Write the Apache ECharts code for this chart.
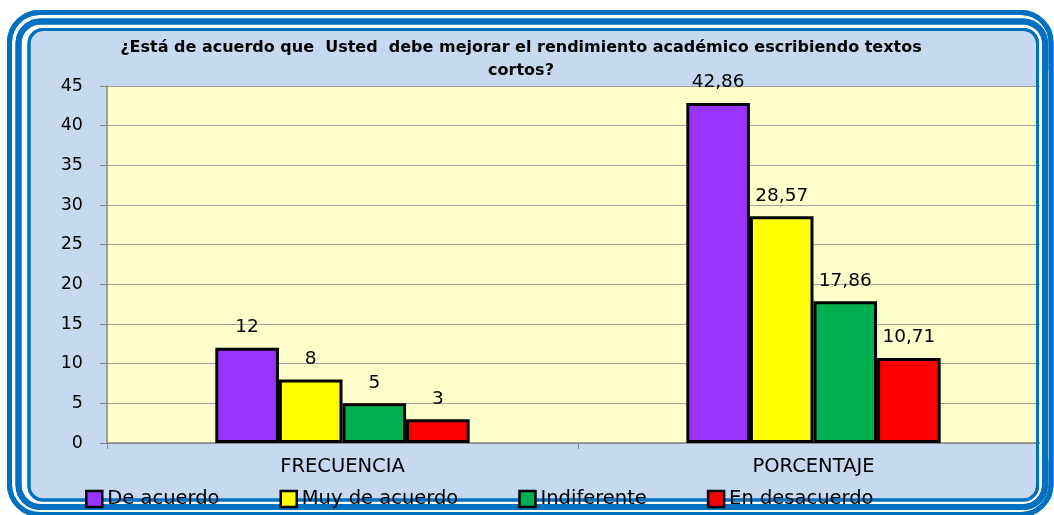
<!DOCTYPE html>
<html>
<head>
<meta charset="utf-8">
<script src="https://cdn.jsdelivr.net/npm/echarts@6/dist/echarts.min.js"></script>
<style>
  html, body { margin: 0; padding: 0; background: #fff; }
  #container { width: 1054px; height: 515px; }
</style>
</head>
<body>
<div id="container"></div>
<script>
// values
let categories = ['FRECUENCIA', 'PORCENTAJE'];
let seriesNames = ['De acuerdo', 'Muy de acuerdo', 'Indiferente', 'En desacuerdo'];
let seriesColors = ['#9933ff', '#ffff00', '#00b050', '#ff0000'];
let deAcuerdo = [12, 42.86];
let muyDeAcuerdo = [8, 28.57];
let indiferente = [5, 17.86];
let enDesacuerdo = [3, 10.71];
let seriesValues = [deAcuerdo, muyDeAcuerdo, indiferente, enDesacuerdo];

let font = 'DejaVu Sans';
let dom = document.getElementById('container');
let chart = echarts.init(dom);

// rounded blue frame, three lines like the excel one
let rings = [
    {x: 9.5, y: 12.5, width: 1041.5, height: 502, r: 30, lineWidth: 5},
    {x: 18.5, y: 21.5, width: 1026.5, height: 485.5, r: 22, lineWidth: 6},
    {x: 29, y: 29.5, width: 1008.5, height: 470.5, r: 14, lineWidth: 3}
];

function frame(onTop){
    let out = [];
    rings.forEach((rg, i) => {
        out.push({
            type: 'rect',
            z: onTop ? 40 : -10 + i,
            silent: true,
            shape: {x: rg.x, y: rg.y, width: rg.width, height: rg.height, r: rg.r},
            style: {
                fill: onTop ? null : (i == 2 ? '#c6d9f1' : '#ffffff'),
                stroke: '#0070c0',
                lineWidth: rg.lineWidth
            }
        });
    });
    return out;
}

let graphics = frame(false);
// yellow plot area
graphics.push({
    type: 'rect', z: -5, silent: true,
    shape: {x: 107, y: 86, width: 932, height: 357},
    style: {fill: '#ffffcc'}
});
// hide the gridline ends under the right border
graphics.push({
    type: 'rect', z: 39, silent: true,
    shape: {x: 1040, y: 70, width: 12, height: 390},
    style: {fill: '#ffffff'}
});
graphics = graphics.concat(frame(true));

let series = seriesNames.map((name, i) => ({
    name: name,
    type: 'bar',
    data: seriesValues[i],
    barWidth: '13.5%',
    barGap: '0%',
    itemStyle: {
        color: seriesColors[i],
        borderColor: '#000',
        borderWidth: 3
    },
    label: {
        show: true,
        position: 'top',
        distance: 11,
        color: '#000',
        fontFamily: font,
        fontSize: 18.5,
        formatter: (p) => String(p.value).replace('.', ',')
    }
}));

chart.setOption({
    backgroundColor: '#fff',
    animation: false,
    graphic: graphics,
    title: {
        text: '¿Está de acuerdo que  Usted  debe mejorar el rendimiento académico escribiendo textos\ncortos?',
        left: 516,
        top: 31,
        z: 50,
        textAlign: 'center',
        textStyle: {
            fontFamily: font,
            fontWeight: 'bold',
            fontSize: 16,
            lineHeight: 23,
            color: '#000'
        }
    },
    grid: {
        left: 107,
        right: 5,
        top: 86,
        bottom: 72
    },
    legend: {
        data: seriesNames,
        left: 80,
        top: 484,
        z: 50,
        itemGap: 60,
        itemWidth: 16,
        itemHeight: 16,
        icon: 'rect',
        itemStyle: {borderColor: '#000', borderWidth: 2.5},
        textStyle: {fontFamily: font, fontSize: 19.5, color: '#000'}
    },
    xAxis: {
        type: 'category',
        data: categories,
        axisLine: {lineStyle: {color: '#868686', width: 1.5}},
        axisTick: {show: true, length: 6, lineStyle: {color: '#868686'}},
        axisLabel: {
            margin: 14,
            color: '#000',
            fontFamily: font,
            fontSize: 19.5
        }
    },
    yAxis: {
        type: 'value',
        min: 0,
        max: 45,
        interval: 5,
        axisLine: {show: true, lineStyle: {color: '#868686', width: 1.5}},
        axisTick: {show: true, length: 7, lineStyle: {color: '#868686'}},
        splitLine: {lineStyle: {color: '#a0a0a0', width: 1.2}},
        axisLabel: {
            margin: 24,
            color: '#000',
            fontFamily: font,
            fontSize: 17.5
        }
    },
    series: series
});
</script>
</body>
</html>
